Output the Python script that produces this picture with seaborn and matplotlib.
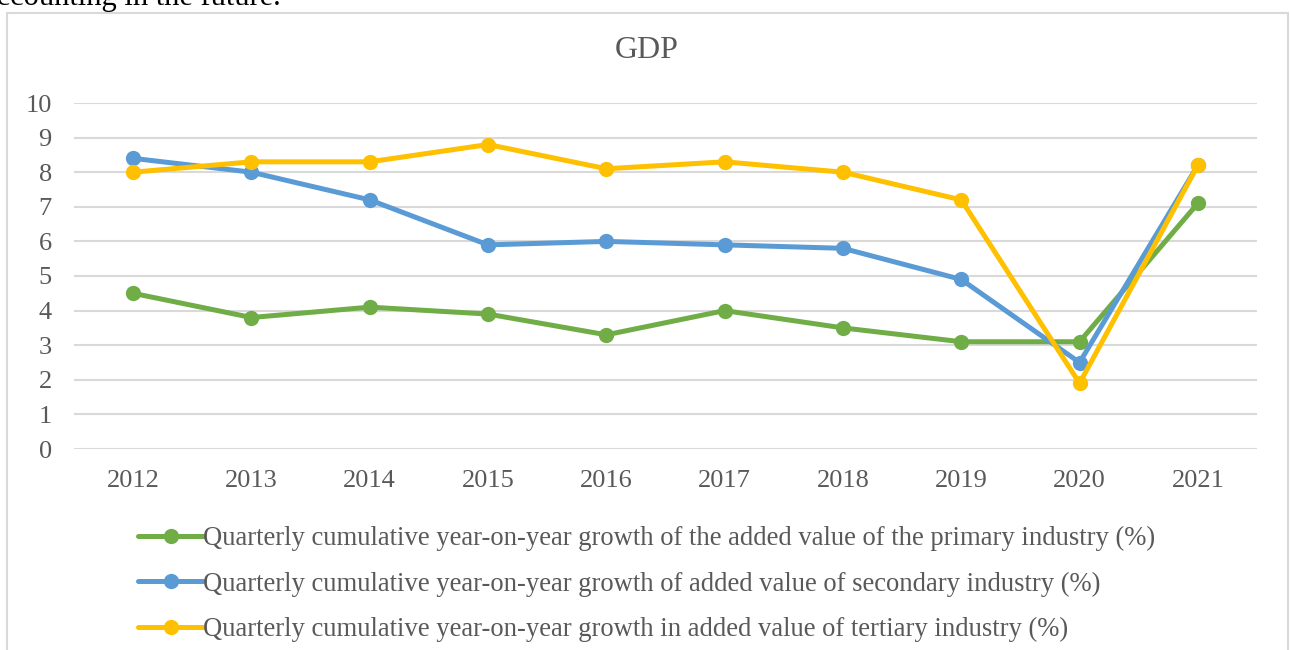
import pandas as pd
import matplotlib
matplotlib.use('Agg')
import matplotlib.pyplot as plt
import seaborn as sns
from matplotlib.patches import Rectangle

anos = ['2012', '2013', '2014', '2015', '2016', '2017', '2018', '2019', '2020', '2021']
primaria = [4.5, 3.8, 4.1, 3.9, 3.3, 4.0, 3.5, 3.1, 3.1, 7.1]
secundaria = [8.4, 8.0, 7.2, 5.9, 6.0, 5.9, 5.8, 4.9, 2.5, 8.2]
terciaria = [8.0, 8.3, 8.3, 8.8, 8.1, 8.3, 8.0, 7.2, 1.9, 8.2]

nomes = [
    'Quarterly cumulative year-on-year growth of the added value of the primary industry (%)',
    'Quarterly cumulative year-on-year growth of added value of secondary industry (%)',
    'Quarterly cumulative year-on-year growth in added value of tertiary industry (%)',
]
cores = ['#70AD47', '#5B9BD5', '#FFC000']

# dados em formato longo para o seaborn
df = pd.concat([
    pd.DataFrame({'Ano': anos, 'Valor': serie, 'Serie': nome})
    for serie, nome in zip([primaria, secundaria, terciaria], nomes)
])

sns.set_style('white')
plt.rcParams['font.family'] = ['Liberation Serif', 'DejaVu Serif']
cinza = '#595959'

fig = plt.figure(figsize=(12.9, 6.5), dpi=100)
ax = fig.add_axes([74 / 1290, 1 - 449 / 650, (1257 - 74) / 1290, (449 - 103) / 650])

# moldura do grafico (cortada embaixo como no documento)
fig.patches.append(Rectangle((7 / 1290, -0.05), (1288 - 7) / 1290, 1 - 13 / 650 + 0.05,
                             transform=fig.transFigure, fill=False, edgecolor='#D9D9D9',
                             linewidth=1.5, clip_on=False))

# texto do documento cortado no topo
fig.text(-0.013, 1 - 5 / 650, 'accounting in the future.', fontsize=22, color='black',
         va='baseline', ha='left')

sns.lineplot(data=df, x='Ano', y='Valor', hue='Serie', palette=cores, marker='o',
             markersize=11, markeredgewidth=0, linewidth=3.6, sort=False, ax=ax)

ax.set_ylim(0, 10)
ax.set_xlim(-0.5, len(anos) - 0.5)
ax.set_yticks(range(0, 11))
ax.yaxis.grid(True, color='#D9D9D9', linewidth=1.5)
ax.set_axisbelow(True)
for s in ax.spines.values():
    s.set_visible(False)
ax.tick_params(axis='both', length=0, labelsize=19, labelcolor=cinza)
ax.tick_params(axis='x', pad=15)
ax.tick_params(axis='y', pad=16)
ax.set_xlabel('')
ax.set_ylabel('')

fig.text(647 / 1290, 1 - 51 / 650, 'GDP', fontsize=23, color=cinza, ha='center', va='center')

handles, labels = ax.get_legend_handles_labels()
ax.legend_.remove()
fig.legend(handles, labels, loc='upper left', bbox_to_anchor=(138 / 1290, 1 - 526 / 650),
           frameon=False, fontsize=19.2, labelcolor=cinza, handlelength=2.45,
           handletextpad=0.0, labelspacing=0.76, borderpad=0, borderaxespad=0)

fig.savefig('out.png', dpi=100)
